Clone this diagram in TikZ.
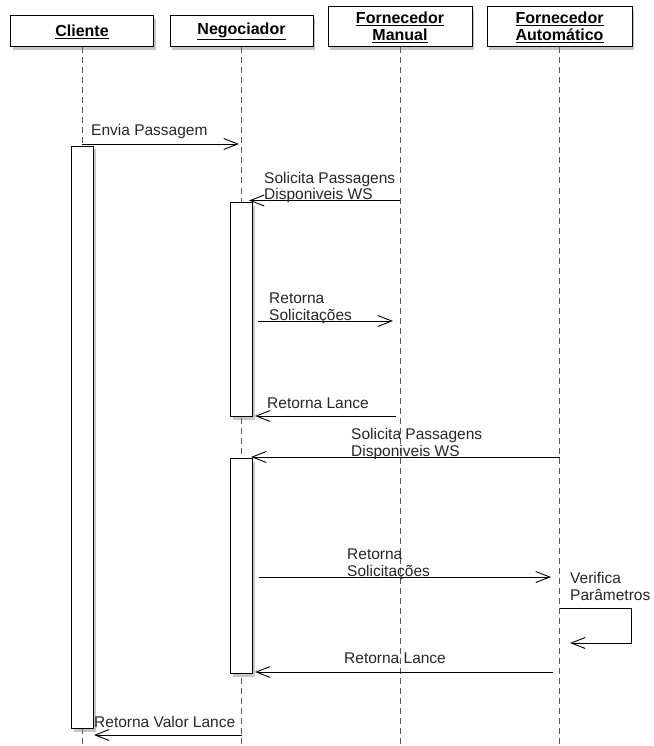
\documentclass[tikz,border=0pt]{standalone}
\usepackage{fontspec}
\setmainfont{Liberation Sans}
\usetikzlibrary{arrows.meta}
\usetikzlibrary{shadows}

\begin{document}
\begin{tikzpicture}[x=1pt,y=-1pt,
    actor/.style={draw,line width=1pt,fill=white,align=center,inner sep=0pt,
        drop shadow={shadow xshift=2pt,shadow yshift=-3pt,opacity=0.45},
        font=\bfseries\fontsize{16}{17}\selectfont},
    life/.style={dash pattern=on 6pt off 4pt,line width=0.9pt,gray!70!black},
    act/.style={draw,line width=1pt,fill=white,minimum width=22,inner sep=0pt,anchor=north west,
        drop shadow={shadow xshift=2pt,shadow yshift=-3pt,opacity=0.45}},
    msg/.style={line width=0.9pt,-{Straight Barb[length=14pt,width=11pt]}},
    lbl/.style={anchor=base west,align=left,inner sep=0pt,text=black!85,
        font=\fontsize{15.5}{17}\selectfont}]
    \useasboundingbox (0,0) rectangle (653,746);

    % Actors
    \node[actor,minimum width=143,minimum height=31] (cliente) at (82,31.5) {\underline{Cliente}};
    \node[actor,minimum width=143,minimum height=31] (negociador) at (241.5,31.5) {\underline{Negociador}};
    \node[actor,minimum width=144,minimum height=40] (fmanual) at (400,27) {\underline{Fornecedor}\\\underline{Manual}};
    \node[actor,minimum width=145,minimum height=40] (fauto) at (559.5,27) {\underline{Fornecedor}\\\underline{Automático}};

    % Lifelines
    \foreach \n in {cliente,negociador,fmanual,fauto}
        \draw[life] (\n.south) -- (\n.south |- 0,746);

    % Activations
    \node[act,minimum height=582] (actC) at (71,146) {};
    \node[act,minimum height=214] (actN1) at (230,202) {};
    \node[act,minimum height=215] (actN2) at (230,458) {};

    % Messages
    \draw[msg] (cliente.south |- 0,144) -- (239,144);
    \node[lbl] (lEnvia) at (91,136) {Envia Passagem};

    \draw[msg] (fmanual.south |- 0,200.5) -- (249,200.5);
    \node[lbl] (lSolicita1) at (264,200) {Solicita Passagens\\Disponiveis WS};

    \draw[msg] (258,321) -- (393,321);
    \node[lbl] (lRetSol1) at (269,320) {Retorna\\Solicitações};

    \draw[msg] (396,416) -- (255,416);
    \node[lbl] (lLance1) at (267,408) {Retorna Lance};

    \draw[msg] (fauto.south |- 0,457) -- (251,457);
    \node[lbl] (lSolicita2) at (351,456.5) {Solicita Passagens\\Disponiveis WS};

    \draw[msg] (259,577) -- (551,577);
    \node[lbl] (lRetSol2) at (347,576) {Retorna\\Solicitações};

    % Self message
    \draw[msg] (fauto.south |- 0,608) -- (631,608) -- (631,643) -- (570,643);
    \node[lbl] (lVerifica) at (570,600) {Verifica\\Parâmetros};

    \draw[msg] (553,672) -- (255,672);
    \node[lbl] (lLance2) at (344,663) {Retorna Lance};

    \draw[msg] (negociador.south |- 0,735) -- (94,735);
    \node[lbl] (lValor) at (94,727) {Retorna Valor Lance};

\end{tikzpicture}
\end{document}
